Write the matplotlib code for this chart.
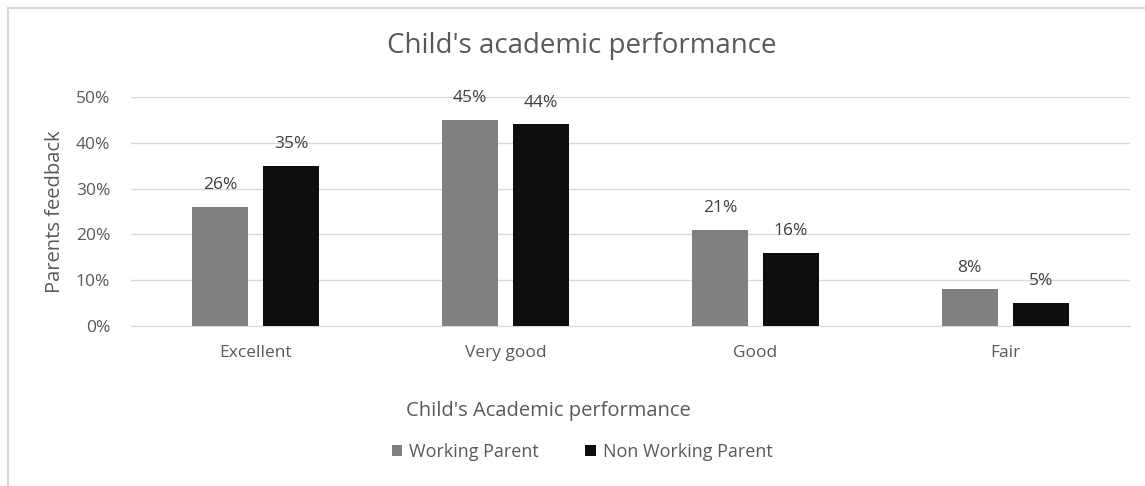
import matplotlib
matplotlib.use("Agg")
import matplotlib.pyplot as plt
import numpy as np
from matplotlib.patches import Rectangle
from matplotlib.ticker import PercentFormatter

categories = ["Excellent", "Very good", "Good", "Fair"]
working = [0.26, 0.45, 0.21, 0.08]
non_working = [0.35, 0.44, 0.16, 0.05]
series_names = ["Working Parent", "Non Working Parent"]

plt.rcParams['font.family'] = ['Open Sans', 'DejaVu Sans']
txt = "#595959"

W, H = 1145, 486
fig = plt.figure(figsize=(W/100, H/100), dpi=100)
fig.patch.set_facecolor("white")
fig.add_artist(Rectangle((8/W, -0.2), 1.2, 1.2 - 8/H, transform=fig.transFigure,
                         fill=False, edgecolor="#d9d9d9", lw=1.5))

ax = fig.add_axes([131/W, 1 - 326/H, (1130-131)/W, (326-97)/H])
x = np.arange(len(categories))
bw = 0.224
gap = 0.06
off = (bw + gap) / 2
b1 = ax.bar(x - off, working, bw, color="#808080", label=series_names[0], zorder=3)
b2 = ax.bar(x + off, non_working, bw, color="#0d0d0d", label=series_names[1], zorder=3)
for bars in (b1, b2):
    for r in bars:
        ax.text(r.get_x() + r.get_width()/2, r.get_height() + 0.03,
                f"{round(r.get_height()*100)}%", ha="center", va="bottom",
                fontsize=12.5, color="#404040")

ax.set_xlim(-0.5, len(categories) - 0.5)
ax.set_ylim(0, 0.5)
ax.set_yticks(np.arange(0, 0.51, 0.1))
ax.yaxis.set_major_formatter(PercentFormatter(1.0, decimals=0))
ax.set_xticks(x)
ax.set_xticklabels(categories)
ax.tick_params(axis="both", length=0, labelsize=12.5, labelcolor=txt)
ax.tick_params(axis="x", pad=14)
ax.tick_params(axis="y", pad=15)
ax.grid(axis="y", color="#d9d9d9", lw=1, zorder=0)
for s in ["top", "right", "left"]:
    ax.spines[s].set_visible(False)
ax.spines["bottom"].set_color("#d9d9d9")
ax.set_facecolor("white")

fig.text(582/W, 1 - 46/H, "Child's academic performance", ha="center", va="center",
         fontsize=20, color=txt)
fig.text(55/W, 1 - 212/H, "Parents feedback", ha="center", va="center",
         rotation=90, fontsize=14.5, color=txt)
fig.text(548/W, 1 - 411/H, "Child's Academic performance", ha="center", va="center",
         fontsize=14.5, color=txt)
leg = fig.legend(handles=[b1, b2], labels=series_names, loc="center",
                 bbox_to_anchor=(582/W, 1 - 452/H), ncol=2, frameon=False,
                 fontsize=13, handlelength=0.6, handleheight=0.6, handletextpad=0.35,
                 columnspacing=2.6)
for t in leg.get_texts():
    t.set_color(txt)

fig.savefig("out.png", dpi=100, facecolor="white")
